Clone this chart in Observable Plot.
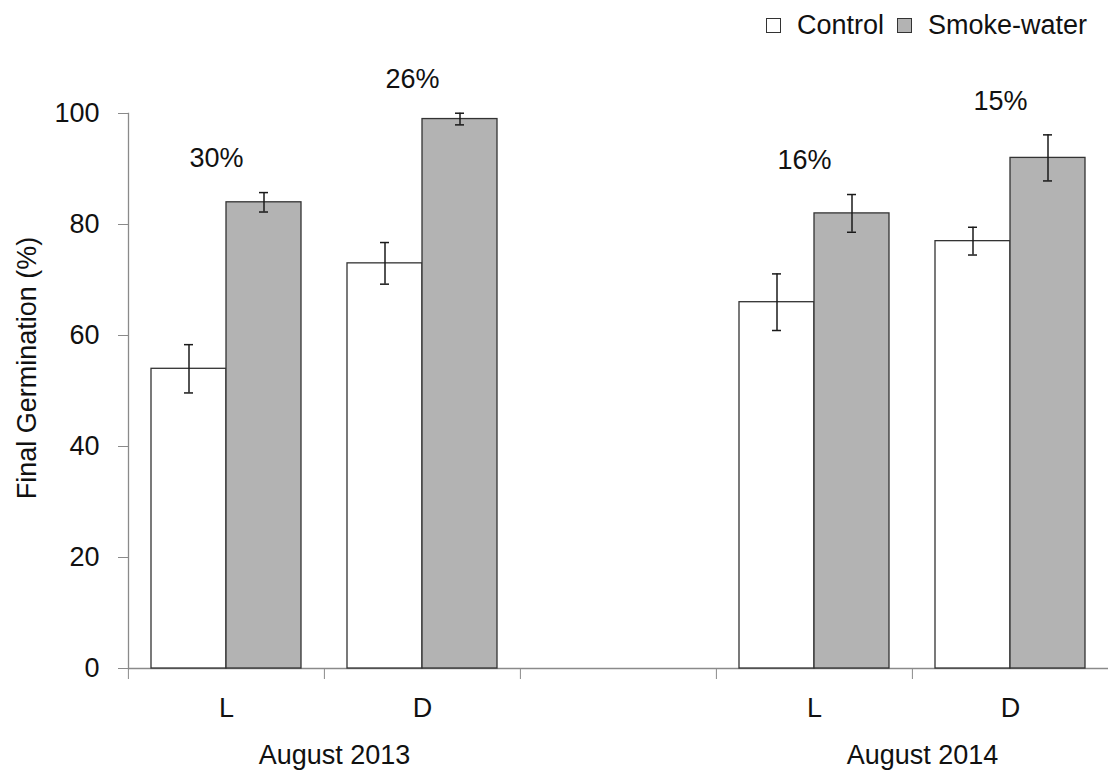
<!DOCTYPE html>
<html><head><meta charset="utf-8">
<script src="https://cdn.jsdelivr.net/npm/d3@7"></script>
<script src="https://cdn.jsdelivr.net/npm/@observablehq/plot@0.6"></script>
<style>
body{margin:0;background:#fff;}
#wrap{position:relative;width:1108px;height:778px;font-family:"Liberation Sans",Arial,sans-serif;color:#111;}
#legend{position:absolute;top:9px;right:21px;display:flex;align-items:center;font-size:27px;line-height:32px;}
#legend .sw{display:inline-block;box-sizing:border-box;width:15px;height:15px;border:1px solid #333;}
</style></head><body><div id="wrap"><div id="legend"></div></div>
<script>
// ---- data ----
const seasons = ["August 2013", "August 2014"];
const lights = ["L", "D"];
const treatments = ["Control", "Smoke-water"];
const controlMean = [54, 73, 66, 77];
const controlErr = [4.35, 3.75, 5.1, 2.5];
const smokeMean = [84, 99, 82, 92];
const smokeErr = [1.75, 1.05, 3.4, 4.15];
const increaseLabels = ["30%", "26%", "16%", "15%"];
const yTicks = [0, 20, 40, 60, 80, 100];
const yLabel = "Final Germination (%)";
const colors = ["#ffffff", "#b3b3b3"];

// ---- derived tables ----
const GAP = "gap";
const key = (s, l) => seasons[s] + " " + lights[l];
const slotDomain = [key(0,0), key(0,1), GAP, key(1,0), key(1,1)];
const slotLabel = new Map([[GAP, ""]]);
const rows = [], annots = [];
seasons.forEach((s, si) => lights.forEach((l, li) => {
  const i = si * 2 + li, slot = key(si, li);
  slotLabel.set(slot, l);
  rows.push({slot, treatment: treatments[0], mean: controlMean[i], lo: controlMean[i] - controlErr[i], hi: controlMean[i] + controlErr[i]});
  rows.push({slot, treatment: treatments[1], mean: smokeMean[i], lo: smokeMean[i] - smokeErr[i], hi: smokeMean[i] + smokeErr[i]});
  annots.push({slot, y: smokeMean[i] + smokeErr[i], text: increaseLabels[i]});
}));
const groupRows = seasons.map((s, si) => ({slot: key(si, 1), text: s}));

const axisGray = "#8a8a8a";
const chart = Plot.plot({
  width: 1108, height: 778,
  marginTop: 113, marginBottom: 110, marginLeft: 127, marginRight: 0,
  style: {fontFamily: '"Liberation Sans", Arial, sans-serif', fontSize: "27px", color: "#111", background: "transparent"},
  fx: {domain: slotDomain, padding: 0},
  x: {domain: treatments, paddingInner: 0, paddingOuter: 0.3, axis: null},
  y: {domain: [0, 100]},
  color: {domain: treatments, range: colors},
  marks: [
    // baseline in every slot (including the empty gap slot)
    Plot.ruleY(slotDomain, {fx: d => d, y: () => 0, stroke: axisGray, strokeWidth: 1.3}),
    Plot.frame({anchor: "left", fx: () => slotDomain[0], stroke: axisGray, strokeWidth: 1.3}),
    Plot.axisY({ticks: yTicks, tickSize: 10, tickPadding: 19, label: null, stroke: axisGray, fontSize: 27}),
    Plot.axisFx({anchor: "bottom", tickSize: 11, tickFormat: () => "", dx: -98.1, stroke: axisGray, label: null}),
    Plot.axisFx({anchor: "bottom", tickSize: 0, tickPadding: 29, tickFormat: d => slotLabel.get(d), label: null, fontSize: 27}),
    Plot.barY(rows, {fx: "slot", x: "treatment", y: "mean", fill: "treatment", stroke: "#333", strokeWidth: 1.3}),
    Plot.ruleX(rows, {fx: "slot", x: "treatment", y1: "lo", y2: "hi", stroke: "#1a1a1a", strokeWidth: 1.5}),
    Plot.tickY(rows, {fx: "slot", x: "treatment", y: "lo", insetLeft: 33, insetRight: 33, stroke: "#1a1a1a", strokeWidth: 1.5}),
    Plot.tickY(rows, {fx: "slot", x: "treatment", y: "hi", insetLeft: 33, insetRight: 33, stroke: "#1a1a1a", strokeWidth: 1.5}),
    Plot.text(annots, {fx: "slot", y: "y", text: "text", dx: -10, dy: -34, fontSize: 27, lineAnchor: "middle"}),
    Plot.text(groupRows, {fx: "slot", text: "text", frameAnchor: "bottom-left", textAnchor: "middle", dx: 10, dy: 76, lineAnchor: "top", fontSize: 27}),
    Plot.text([yLabel], {fx: () => slotDomain[0], frameAnchor: "left", textAnchor: "middle", rotate: -90, dx: -101, dy: -23, fontSize: 27})
  ]
});
document.getElementById("wrap").appendChild(chart);

// legend
const legend = document.getElementById("legend");
treatments.forEach((t, i) => {
  const sw = document.createElement("span");
  sw.className = "sw";
  sw.style.background = colors[i];
  sw.style.marginLeft = i === 0 ? "0" : "13px";
  sw.style.marginRight = "16px";
  const lab = document.createElement("span");
  lab.textContent = t;
  legend.appendChild(sw);
  legend.appendChild(lab);
});
</script></body></html>
